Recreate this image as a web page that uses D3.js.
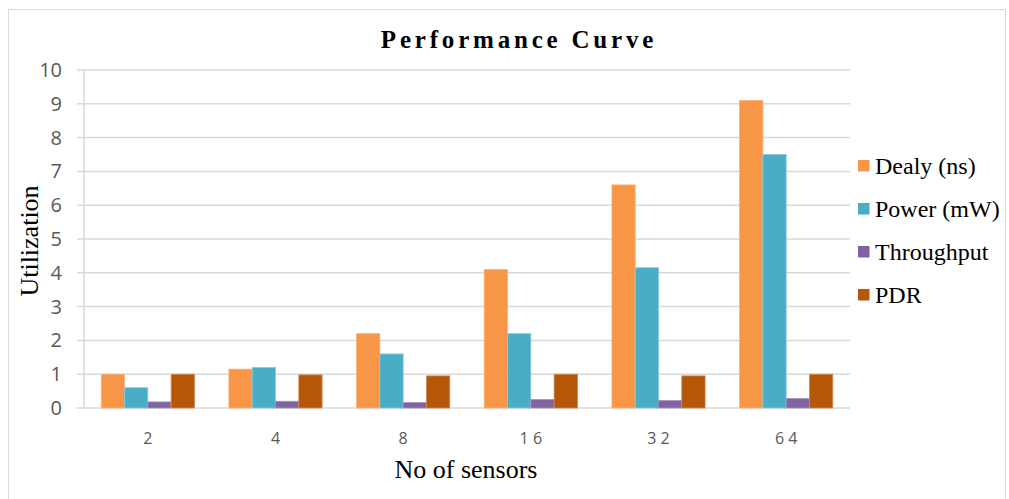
<!DOCTYPE html>
<html><head><meta charset="utf-8">
<script src="https://cdn.jsdelivr.net/npm/d3@7"></script>
<style>body{margin:0;background:#fff}</style>
</head><body>
<svg id="c" width="1009" height="499"></svg>
<script>
const categories = ["2","4","8","16","32","64"];
const categoryLabels = ["2","4","8","1 6","3 2","6 4"];
const seriesNames = ["Dealy (ns)","Power (mW)","Throughput","PDR"];
const dealy = [1.0,1.15,2.2,4.1,6.6,9.1];
const power = [0.6,1.2,1.6,2.2,4.15,7.5];
const throughput = [0.18,0.2,0.16,0.25,0.22,0.28];
const pdr = [1.0,0.98,0.95,1.0,0.95,1.0];
const yTicks = [0,1,2,3,4,5,6,7,8,9,10];
const colors = ["#F79646","#4BACC6","#8064A2","#B65708"];
const strokes = ["#F9B27E","#8ACBDC","#A690C0","#D08A55"];
const seriesValues = [dealy,power,throughput,pdr];

const svg = d3.select("#c");
svg.append("rect").attr("x",8.5).attr("y",9.5).attr("width",997).attr("height",495)
  .attr("fill","#fff").attr("stroke","#d9d9d9");

const pL=84,pR=850,pT=70,pB=408;
const x = d3.scaleBand().domain(categories).range([pL,pR]).paddingInner(0.27).paddingOuter(0.135);
const xs = d3.scaleBand().domain(seriesNames).range([0,x.bandwidth()]);
const y = d3.scaleLinear().domain([0,10]).range([pB,pT]);

// gridlines
svg.append("g").selectAll("line").data(yTicks).join("line")
  .attr("x1",77).attr("x2",pR).attr("y1",d=>y(d)).attr("y2",d=>y(d))
  .attr("stroke","#d9d9d9").attr("stroke-width",1.5);
svg.append("line").attr("x1",pL).attr("x2",pL).attr("y1",pT).attr("y2",pB)
  .attr("stroke","#d9d9d9").attr("stroke-width",1.5);

// y labels
const yAxis = d3.axisLeft(y).tickValues(yTicks).tickSize(0).tickPadding(0);
const yg = svg.append("g").attr("transform","translate(62,0)").call(yAxis);
yg.select(".domain").remove();
yg.selectAll("text").attr("font-family","'Open Sans', sans-serif").attr("font-size",20).attr("fill","#595959");

// x labels
const xAxis = d3.axisBottom(x).tickSize(0).tickPadding(0).tickFormat((d,i)=>categoryLabels[i]);
const xg = svg.append("g").attr("transform",`translate(0,${pB+25})`).call(xAxis);
xg.select(".domain").remove();
xg.selectAll("text").attr("font-family","'Open Sans', sans-serif").attr("font-size",16).attr("fill","#595959");

// bars
seriesNames.forEach((s,si)=>{
  svg.append("g").selectAll("rect").data(categories).join("rect")
    .attr("x",d=>x(d)+xs(s)).attr("width",xs.bandwidth())
    .attr("y",(d,i)=>y(seriesValues[si][i])).attr("height",(d,i)=>pB-y(seriesValues[si][i]))
    .attr("fill",colors[si]).attr("stroke",strokes[si]).attr("stroke-width",0.8);
});

// title
svg.append("text").attr("x",519).attr("y",48).attr("text-anchor","middle")
  .attr("font-family","'Liberation Serif', serif").attr("font-weight","bold").attr("font-size",25)
  .attr("letter-spacing",3.8).text("Performance Curve");
// axis titles
svg.append("text").attr("x",466).attr("y",478).attr("text-anchor","middle")
  .attr("font-family","'Liberation Serif', serif").attr("font-size",26).text("No of sensors");
svg.append("text").attr("transform","translate(38,241) rotate(-90)").attr("text-anchor","middle")
  .attr("font-family","'Liberation Serif', serif").attr("font-size",26).text("Utilization");

// legend
const lg = svg.append("g").selectAll("g").data(seriesNames).join("g")
  .attr("transform",(d,i)=>`translate(858,${166+i*43})`);
lg.append("rect").attr("x",0).attr("y",-6).attr("width",11.5).attr("height",11.5).attr("fill",(d,i)=>colors[i]);
lg.append("text").attr("x",17).attr("y",7.5).attr("font-family","'Liberation Serif', serif").attr("font-size",24).text(d=>d);
</script>
</body></html>
